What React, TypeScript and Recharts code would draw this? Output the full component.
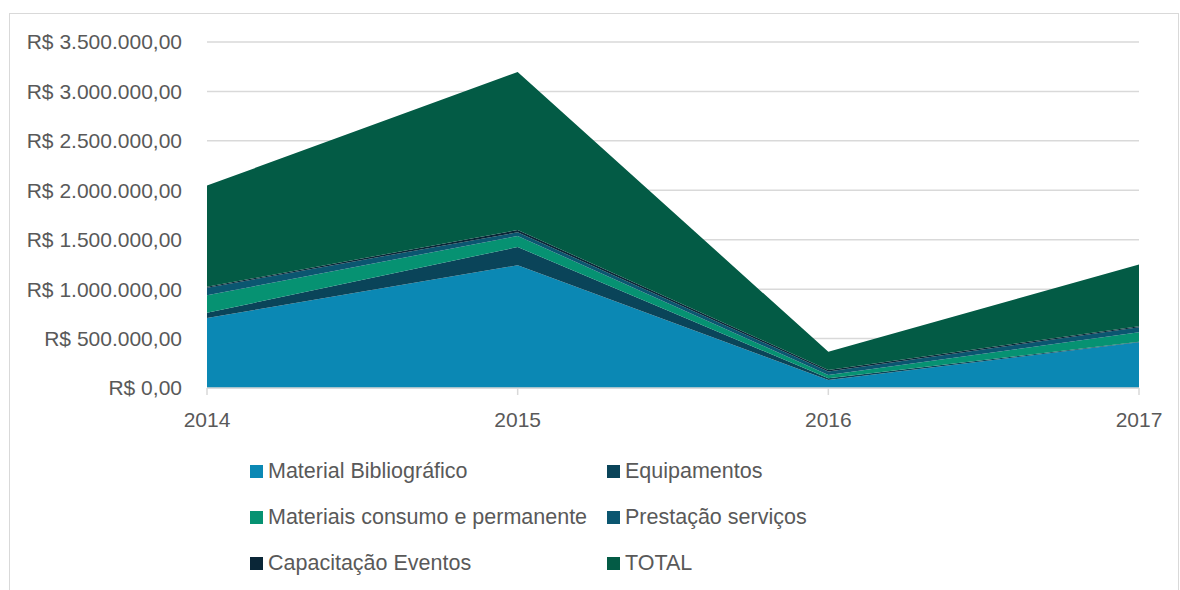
import { Area, AreaChart, CartesianGrid, XAxis, YAxis } from 'recharts';

const years = ['2014', '2015', '2016', '2017'];
const materialBibliografico = [708000, 1241000, 81000, 462000];
const equipamentos = [53000, 185000, 17000, 6000];
const materiaisConsumo = [177000, 112000, 33000, 95000];
const prestacaoServicos = [77000, 37000, 36000, 51000];
const capacitacaoEventos = [9000, 23000, 16000, 11000];
const total = [1024000, 1598000, 183000, 625000];
const yTicks = [0, 500000, 1000000, 1500000, 2000000, 2500000, 3000000, 3500000];

const series = [
  { key: 'Material Bibliográfico', values: materialBibliografico, color: '#0B88B4' },
  { key: 'Equipamentos', values: equipamentos, color: '#0A4459' },
  { key: 'Materiais consumo e permanente', values: materiaisConsumo, color: '#069272' },
  { key: 'Prestação serviços', values: prestacaoServicos, color: '#0B5670' },
  { key: 'Capacitação Eventos', values: capacitacaoEventos, color: '#0A2637' },
  { key: 'TOTAL', values: total, color: '#035B45' },
];

const data = years.map((year, i) => {
  const row: Record<string, string | number> = { year };
  series.forEach((s) => {
    row[s.key] = s.values[i];
  });
  return row;
});

const font = '"Liberation Sans", Arial, sans-serif';

function brl(v: number) {
  const [int, dec] = v.toFixed(2).split('.');
  return `R$ ${int.replace(/\B(?=(\d{3})+(?!\d))/g, '.')},${dec}`;
}

function LegendGrid() {
  return (
    <div
      style={{
        position: 'absolute',
        left: 250,
        top: 458,
        display: 'grid',
        gridTemplateColumns: '357px 300px',
        rowGap: 20,
        fontFamily: font,
        fontSize: 21.5,
        color: '#595959',
      }}
    >
      {series.map((s) => (
        <div key={s.key} style={{ display: 'flex', alignItems: 'center', height: 26, whiteSpace: 'nowrap' }}>
          <span style={{ width: 13, height: 13, background: s.color, marginRight: 5, display: 'inline-block', flex: 'none' }} />
          {s.key}
        </div>
      ))}
    </div>
  );
}

export default function App() {
  return (
    <div style={{ position: 'absolute', left: 0, top: 0, width: 1180, height: 590, background: '#fff', overflow: 'hidden' }}>
      <div style={{ position: 'absolute', left: 9, top: 13, width: 1168, height: 600, border: '1px solid #D9D9D9' }} />
      <AreaChart width={1180} height={590} data={data} margin={{ top: 42, right: 41, left: 0, bottom: 172 }}>
        <CartesianGrid vertical={false} stroke="#D9D9D9" strokeWidth={1.5} />
        <XAxis
          dataKey="year"
          height={30}
          stroke="#D9D9D9"
          strokeWidth={1.5}
          tickSize={7}
          tick={{ fill: '#595959', fontSize: 21, fontFamily: font }}
          tickMargin={17}
        />
        <YAxis
          width={207}
          domain={[0, 3500000]}
          ticks={yTicks}
          axisLine={false}
          tickLine={false}
          tickFormatter={brl}
          tickMargin={19}
          tick={{ fill: '#595959', fontSize: 21, fontFamily: font }}
        />
        {series.map((s) => (
          <Area
            key={s.key}
            dataKey={s.key}
            stackId="1"
            type="linear"
            fill={s.color}
            fillOpacity={1}
            stroke="none"
            isAnimationActive={false}
          />
        ))}
      </AreaChart>
      <LegendGrid />
    </div>
  );
}
